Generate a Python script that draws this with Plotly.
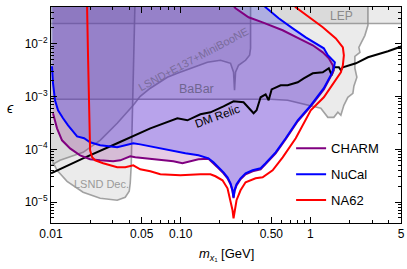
import plotly.graph_objects as go

# ---------------- data: (mass m_chi1 [GeV], epsilon) ----------------
# NuCal (blue) contour
nucal_m = [0.01018, 0.01036, 0.01074, 0.01133, 0.01238, 0.01354, 0.01589, 0.0180, 0.02002, 0.02393,
           0.0324, 0.03736, 0.04308, 0.04879, 0.05832, 0.06966, 0.08779, 0.1087, 0.1371, 0.1638,
           0.179, 0.1957, 0.2139, 0.2297, 0.2423, 0.2511, 0.2556, 0.2602, 0.2696, 0.2895,
           0.3165, 0.3585, 0.4134, 0.4519, 0.4939, 0.54, 0.6452, 0.7992, 1.007, 1.27,
           1.438, 1.517, 1.545, 1.438, 1.364, 1.27, 1.101, 0.9215, 0.7311, 0.5696, 0.4519, 0.42]
nucal_eps = [3.75e-3, 1.79e-3, 8.5e-4, 5.49e-4, 3.87e-4, 2.85e-4, 1.76e-4, 1.62e-4, 1.36e-4, 1.19e-4,
             1.09e-4, 1.19e-4, 1.30e-4, 1.24e-4, 1.14e-4, 1.04e-4, 9.16e-5, 8.4e-5, 7.69e-5, 6.75e-5,
             5.67e-5, 4.56e-5, 3.66e-5, 2.94e-5, 2.27e-5, 1.67e-5, 1.23e-5, 1.67e-5, 2.17e-5, 2.82e-5,
             3.51e-5, 4.0e-5, 4.36e-5, 5.43e-5, 7.05e-5, 8.77e-5, 1.62e-4, 3.55e-4, 6.83e-4, 1.44e-3,
             2.53e-3, 3.44e-3, 4.47e-3, 5.32e-3, 6.07e-3, 8.23e-3, 1.024e-2, 1.33e-2, 1.97e-2, 3.05e-2, 4.93e-2, 6.0e-2]
nucal_close_m = [0.0101, 0.0101]
nucal_close_eps = [6.0e-2, 3.75e-3]

# CHARM (purple) contour
charm_m = [0.01036, 0.01074, 0.01113, 0.01216, 0.01403, 0.01676, 0.02002, 0.02393, 0.03016, 0.03418,
           0.04083, 0.04465, 0.05146, 0.06966, 0.08779, 0.1031, 0.1371, 0.1638, 0.179, 0.1957,
           0.2139, 0.2297, 0.2423, 0.2511, 0.2556, 0.2602, 0.2696, 0.2895, 0.3165, 0.3585,
           0.4134, 0.4519, 0.4939, 0.54, 0.6452, 0.7992, 1.007, 1.27, 1.438, 1.517,
           1.491, 1.388, 1.247, 1.0437, 0.8136, 0.6116, 0.4284, 0.3339, 0.2649, 0.245]
charm_eps = [4.82e-4, 3.55e-4, 2.5e-4, 1.48e-4, 1.04e-4, 7.69e-5, 6.46e-5, 6.18e-5, 5.92e-5, 6.18e-5,
             7.37e-5, 7.05e-5, 6.75e-5, 6.18e-5, 5.92e-5, 5.43e-5, 6.46e-5, 6.6e-5, 5.43e-5, 4.36e-5,
             3.51e-5, 2.82e-5, 2.17e-5, 1.6e-5, 1.18e-5, 1.6e-5, 2.07e-5, 2.7e-5, 3.36e-5, 3.83e-5,
             4.17e-5, 5.19e-5, 6.75e-5, 8.4e-5, 1.55e-4, 3.4e-4, 6.54e-4, 1.37e-3, 2.42e-3, 3.15e-3,
             3.92e-3, 5.32e-3, 6.91e-3, 9.39e-3, 1.27e-2, 1.81e-2, 2.56e-2, 3.19e-2, 4.72e-2, 6.0e-2]
charm_close_m = [0.0103, 0.0103]
charm_close_eps = [6.0e-2, 4.82e-4]

# NA62 (red) projection
na62_m = [0.01898, 0.01898, 0.01933, 0.01967, 0.02002, 0.02076, 0.02189, 0.02525, 0.0324, 0.03736,
          0.04308, 0.04879, 0.05832, 0.06966, 0.09947, 0.142, 0.1697, 0.1855, 0.2101, 0.2297,
          0.2423, 0.2511, 0.2556, 0.2602, 0.2696, 0.2895, 0.3165, 0.3782, 0.4284, 0.5118,
          0.6116, 0.7712, 1.007, 1.27, 1.517, 1.63, 1.719, 1.781, 1.813, 1.781,
          1.572, 1.247, 0.9719, 0.7712, 0.72]
na62_eps = [6.0e-2, 4.93e-2, 4.88e-3, 3.55e-4, 9.57e-5, 7.05e-5, 6.18e-5, 5.43e-5, 4.56e-5, 4.56e-5,
            4.97e-5, 4.17e-5, 3.83e-5, 3.36e-5, 3.21e-5, 3.36e-5, 3.36e-5, 3.08e-5, 2.58e-5, 1.82e-5,
            1.08e-5, 6.97e-6, 4.91e-6, 6.97e-6, 1.08e-5, 1.67e-5, 2.37e-5, 2.82e-5, 2.94e-5, 4.0e-5,
            7.05e-5, 1.62e-4, 5.49e-4, 9.69e-4, 1.79e-3, 2.32e-3, 2.89e-3, 3.92e-3, 6.07e-3, 8.6e-3,
            1.27e-2, 2.06e-2, 3.19e-2, 4.93e-2, 6.0e-2]

# DM relic target (black)
relic_m = [0.01, 0.01768, 0.0324, 0.05832, 0.09429, 0.1127, 0.142, 0.1697, 0.2139, 0.2556,
           0.3054, 0.3459, 0.365, 0.385, 0.4134, 0.4519, 0.4768, 0.5028, 0.5903, 0.6687,
           0.7992, 0.8895, 1.0437, 1.247, 1.388, 1.464, 1.517, 1.659, 1.719, 1.781,
           2.244, 2.78, 3.968, 5.09]
relic_eps = [3.51e-5, 6.75e-5, 1.30e-4, 2.5e-4, 3.87e-4, 3.55e-4, 4.61e-4, 5.03e-4, 6.54e-4, 8.14e-4,
             7.79e-4, 5.49e-4, 4.82e-4, 5.49e-4, 9.69e-4, 1.10e-3, 8.5e-4, 1.37e-3, 1.64e-3, 1.64e-3,
             1.87e-3, 2.22e-3, 2.76e-3, 2.89e-3, 3.44e-3, 2.53e-3, 3.59e-3, 3.59e-3, 3.15e-3, 3.59e-3,
             4.28e-3, 5.56e-3, 7.22e-3, 9.0e-3]

# Existing bounds (gray regions)
lep_m = [0.005, 10, 10, 0.005]
lep_eps = [2.43e-2, 2.43e-2, 0.1, 0.1]

babar_m = [0.005, 0.4939, 0.6687, 0.8431, 1.007, 1.204, 1.364, 1.517, 1.63, 1.719,
           1.813, 1.946, 2.128, 2.166, 2.285, 2.205, 2.205, 2.411, 2.367, 2.635,
           2.78, 2.78, 2.78, 0.005]
babar_eps = [8.87e-4, 8.87e-4, 8.5e-4, 7.46e-4, 6.83e-4, 5.99e-4, 4.04e-4, 4.04e-4, 5.03e-4, 4.41e-4,
             6.83e-4, 9.69e-4, 1.15e-3, 1.57e-3, 2.32e-3, 3.44e-3, 5.8e-3, 6.91e-3, 8.6e-3, 1.45e-2,
             2.25e-2, 3.97e-2, 0.1, 0.1]

lsnd_e137_m = [0.008, 0.01, 0.01174, 0.01768, 0.02393, 0.0324, 0.04308, 0.04879, 0.05832, 0.0789,
               0.09429, 0.1254, 0.1609, 0.2028, 0.2423, 0.2556, 0.2602, 0.2649, 0.2795, 0.3165,
               0.3399, 0.3459, 0.3459, 0.3459, 0.005]
lsnd_e137_eps = [4.2e-5, 4.97e-5, 6.18e-5, 8.77e-5, 1.48e-4, 3.11e-4, 6.83e-4, 1.01e-3, 1.44e-3, 2.32e-3,
                 2.76e-3, 3.59e-3, 4.47e-3, 4.88e-3, 4.28e-3, 2.89e-3, 1.32e-3, 2.89e-3, 3.92e-3, 4.88e-3,
                 6.07e-3, 8.23e-3, 4.93e-2, 0.1, 0.1]

lsnd_dec_m = [0.009, 0.01, 0.01036, 0.01113, 0.0133, 0.01768, 0.02393, 0.0324, 0.03736, 0.0401,
              0.04083, 0.04157, 0.04232, 0.04385, 0.04465, 0.04465, 0.005]
lsnd_dec_eps = [9.0e-5, 7.05e-5, 5.67e-5, 4.0e-5, 2.47e-5, 1.53e-5, 1.18e-5, 1.08e-5, 1.23e-5, 1.6e-5,
                2.27e-5, 5.0e-5, 3.55e-4, 7.54e-3, 4.93e-2, 0.1, 0.1]

x_ticks = [0.01, 0.05, 0.1, 0.5, 1, 5]
x_ticktext = ["0.01", "0.05", "0.10", "0.50", "1", "5"]
x_minor = [0.02, 0.03, 0.04, 0.06, 0.07, 0.08, 0.09, 0.2, 0.3, 0.4, 0.6, 0.7, 0.8, 0.9, 2, 3, 4]
y_ticks = [1e-5, 1e-4, 1e-3, 1e-2]
y_ticktext = ["10<sup>\u22125</sup>", "10<sup>\u22124</sup>", "10<sup>\u22123</sup>", "10<sup>\u22122</sup>"]
y_minor = [k * 10.0 ** e for e in range(-6, -1) for k in range(2, 10)]

FONT = "Liberation Sans, Arial, sans-serif"
GRAY_FILL = "rgba(120,120,120,0.15)"
GRAY_LINE = "rgba(140,140,140,0.8)"

fig = go.Figure()

for mm, ee in [(lsnd_dec_m, lsnd_dec_eps), (lsnd_e137_m, lsnd_e137_eps),
               (babar_m, babar_eps), (lep_m, lep_eps)]:
    fig.add_trace(go.Scatter(x=mm + [mm[0]], y=ee + [ee[0]], mode="lines", fill="toself",
                             fillcolor=GRAY_FILL, line=dict(color=GRAY_LINE, width=1.6),
                             showlegend=False, hoverinfo="skip"))

fig.add_trace(go.Scatter(x=charm_m + charm_close_m, y=charm_eps + charm_close_eps, mode="none",
                         fill="toself", fillcolor="rgba(128,0,128,0.2)", showlegend=False, hoverinfo="skip"))
fig.add_trace(go.Scatter(x=nucal_m + nucal_close_m, y=nucal_eps + nucal_close_eps, mode="none",
                         fill="toself", fillcolor="rgba(0,0,255,0.2)", showlegend=False, hoverinfo="skip"))

fig.add_trace(go.Scatter(x=relic_m, y=relic_eps, mode="lines", line=dict(color="black", width=2),
                         showlegend=False))
fig.add_trace(go.Scatter(x=charm_m, y=charm_eps, mode="lines", name="CHARM", legendgroup="a",
                         line=dict(color="#800080", width=2)))
fig.add_trace(go.Scatter(x=nucal_m, y=nucal_eps, mode="lines", name="NuCal", legendgroup="b",
                         line=dict(color="#0000ff", width=2)))
fig.add_trace(go.Scatter(x=na62_m, y=na62_eps, mode="lines", name="NA62", legendgroup="c",
                         line=dict(color="#ff0000", width=2)))

def ann(text, x, y, size, color, angle=0):
    fig.add_annotation(text=text, x=x, y=y, xref="paper", yref="paper", showarrow=False,
                       textangle=angle, font=dict(size=size, color=color, family=FONT),
                       xanchor="center", yanchor="middle")

ann("LSND+E137+MiniBooNE", 0.407, 0.759, 11, "#7a6c9c", -28)
ann("BaBar", 0.417, 0.620, 12.5, "#6f6590")
ann("LEP", 0.829, 0.958, 12, "#8a8a8a")
ann("LSND Dec.", 0.143, 0.181, 11, "#9a9a9a")
ann("DM Relic", 0.477, 0.495, 11.5, "black", -20)
ann("<i>\u03f5</i>", -0.117, 0.532, 14, "black")
ann("<i>m</i><sub><i>x</i>\u2081</sub> [GeV]", 0.5, -0.148, 13, "black")

axis_common = dict(type="log", showgrid=False, zeroline=False, showline=True, linecolor="black",
                   linewidth=1, mirror="allticks", ticks="inside", ticklen=6, tickwidth=1,
                   tickcolor="black", tickfont=dict(size=12, color="black", family=FONT),
                   automargin=False)
fig.update_xaxes(**axis_common, range=[-2, 0.69897], tickvals=x_ticks, ticktext=x_ticktext,
                 minor=dict(tickvals=x_minor, ticks="inside", ticklen=3, tickcolor="black"))
fig.update_yaxes(**axis_common, range=[-5.398, -1.301], tickvals=y_ticks, ticktext=y_ticktext,
                 minor=dict(tickvals=y_minor, ticks="inside", ticklen=3, tickcolor="black"))

fig.update_layout(width=407, height=269, margin=dict(l=51, r=6, t=7, b=46),
                  plot_bgcolor="white", paper_bgcolor="white",
                  font=dict(family=FONT, size=12, color="black"),
                  legend=dict(x=0.686, y=0.415, xanchor="left", yanchor="top",
                              bgcolor="rgba(0,0,0,0)", font=dict(size=13, family=FONT),
                              traceorder="grouped", tracegroupgap=6))

fig.write_html("out.html", config={"displayModeBar": False},
               post_script="document.body.style.margin='0';")
